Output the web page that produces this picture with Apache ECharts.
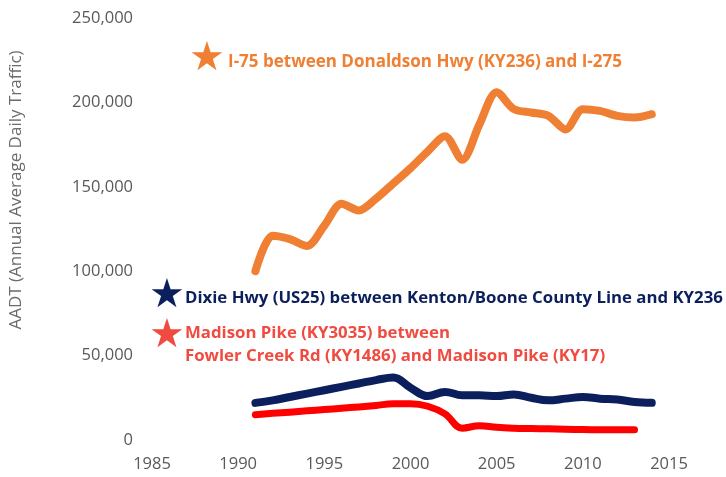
<!DOCTYPE html>
<html lang="en">
<head>
  <meta charset="UTF-8">
  <title>AADT</title>
  <script src="https://cdn.jsdelivr.net/npm/echarts@6/dist/echarts.min.js"></script>
  <style>
    html, body { margin: 0; padding: 0; background: #fff; }
    #chart { width: 726px; height: 477px; }
  </style>
</head>
<body>
<div id="chart"></div>
<script>
  // years with counts
  var years = [1991, 1992, 1993, 1994, 1995, 1996, 1997, 1998, 1999, 2000, 2001, 2002,
               2003, 2004, 2005, 2006, 2007, 2008, 2009, 2010, 2011, 2012, 2013, 2014];
  // I-75 between Donaldson Hwy and I-275
  var i75 = [100000, 121000, 119000, 115000, 127000, 140000, 136000, 143000, 152000, 161000, 171000, 180000,
             166000, 187000, 206000, 196000, 194000, 192000, 184000, 196000, 195000, 192000, 191000, 193000];
  // Dixie Hwy (US25)
  var dixie = [22000, 23500, 25500, 27500, 29500, 31500, 33500, 35500, 37000, 31000, 26000, 28500,
               26500, 26500, 26000, 27000, 25000, 23500, 24500, 25500, 24500, 24000, 22500, 22000];
  // Madison Pike (KY3035), ends 2013
  var madison = [15000, 15800, 16500, 17300, 18000, 18800, 19600, 20500, 21500, 21500, 20000, 15500,
                 7000, 8500, 7500, 7000, 6800, 6600, 6400, 6200, 6100, 6000, 6000, null];

  var xMin = 1985, xMax = 2015, xStep = 5;
  var yMin = 0, yMax = 250000, yStep = 50000;

  function pairs(vals) {
    var out = [];
    for (var i = 0; i < years.length; i++) {
      if (vals[i] != null) out.push([years[i], vals[i]]);
    }
    return out;
  }

  var orange = '#EF7F33', navy = '#0B1F5C', redLine = '#FF0000', redText = '#F04B40';
  var labelFont = '"Open Sans", sans-serif';

  var chart = echarts.init(document.getElementById('chart'));
  chart.setOption({
    animation: false,
    grid: { left: 152, right: 57, top: 18, bottom: 37 },
    xAxis: {
      type: 'value', min: xMin, max: xMax, interval: xStep,
      axisLine: { show: false }, axisTick: { show: false }, splitLine: { show: false },
      axisLabel: { color: '#595959', fontSize: 16.5, fontFamily: labelFont, margin: 16,
        formatter: function (v) { return String(v); } }
    },
    yAxis: {
      type: 'value', min: yMin, max: yMax, interval: yStep,
      axisLine: { show: false }, axisTick: { show: false }, splitLine: { show: false },
      axisLabel: {
        color: '#595959', fontSize: 16.5, fontFamily: labelFont, margin: 19,
        formatter: function (v) { return v.toLocaleString('en-US'); }
      }
    },
    graphic: [
      { type: 'text', x: 16, y: 190, rotation: Math.PI / 2,
        style: { text: 'AADT (Annual Average Daily Traffic)', fill: '#6b6b6b', font: '17px ' + labelFont,
                 align: 'center', verticalAlign: 'middle' } },
      { type: 'text', x: 207, y: 60, style: { text: '\u2605', fill: orange, font: '40px "DejaVu Sans"',
                 align: 'center', verticalAlign: 'middle' } },
      { type: 'text', x: 228, y: 62, style: { text: 'I-75 between Donaldson Hwy (KY236) and I-275', fill: orange,
                 font: 'bold 17px ' + labelFont, verticalAlign: 'middle' } },
      { type: 'text', x: 167, y: 297, style: { text: '\u2605', fill: navy, font: '40px "DejaVu Sans"',
                 align: 'center', verticalAlign: 'middle' } },
      { type: 'text', x: 185, y: 298, style: { text: 'Dixie Hwy (US25) between Kenton/Boone County Line and KY236', fill: navy,
                 font: 'bold 16.8px ' + labelFont, verticalAlign: 'middle' } },
      { type: 'text', x: 167, y: 337, style: { text: '\u2605', fill: redText, font: '40px "DejaVu Sans"',
                 align: 'center', verticalAlign: 'middle' } },
      { type: 'text', x: 185, y: 333, style: { text: 'Madison Pike (KY3035) between', fill: redText,
                 font: 'bold 16.8px ' + labelFont, verticalAlign: 'middle' } },
      { type: 'text', x: 185, y: 356, style: { text: 'Fowler Creek Rd (KY1486) and Madison Pike (KY17)', fill: redText,
                 font: 'bold 16.8px ' + labelFont, verticalAlign: 'middle' } }
    ],
    series: [
      { name: 'I-75', type: 'line', data: pairs(i75), smooth: 0.3, showSymbol: false,
        lineStyle: { color: orange, width: 8, cap: 'round', join: 'round' } },
      { name: 'Dixie Hwy', type: 'line', data: pairs(dixie), smooth: 0.4, showSymbol: false,
        lineStyle: { color: navy, width: 8, cap: 'round', join: 'round' } },
      { name: 'Madison Pike', type: 'line', data: pairs(madison), smooth: 0.4, showSymbol: false,
        lineStyle: { color: redLine, width: 7, cap: 'round', join: 'round' } }
    ]
  });
</script>
</body>
</html>
